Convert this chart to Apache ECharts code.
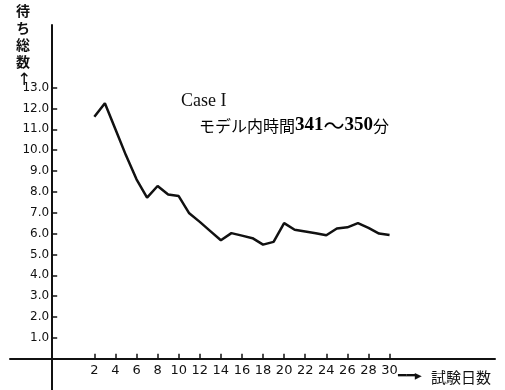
<!DOCTYPE html>
<html><head><meta charset="utf-8">
<script src="https://cdn.jsdelivr.net/npm/echarts@6/dist/echarts.min.js"></script>
<style>html,body{margin:0;padding:0;background:#fff}#c{width:505px;height:390px}</style>
</head><body><div id="c"></div>
<script>
const days = [2,3,4,5,6,7,8,9,10,11,12,13,14,15,16,17,18,19,20,21,22,23,24,25,26,27,28,29,30];
const waits = [11.6,12.25,11.0,9.75,8.6,7.72,8.28,7.87,7.8,6.97,6.56,6.12,5.68,6.02,5.9,5.78,5.47,5.6,6.5,6.18,6.1,6.02,5.92,6.24,6.3,6.5,6.27,6.0,5.93];
const xTicks = [2,4,6,8,10,12,14,16,18,20,22,24,26,28,30];
const yTicks = [1,2,3,4,5,6,7,8,9,10,11,12,13];
const yTitle = '待\nち\n総\n数';
const xTitle = '試験日数';
const caseLabel = 'Case I';
const noteParts = ['モデル内時間','341','〜','350','分'];

const chart = echarts.init(document.getElementById('c'), null, {renderer:'canvas'});
chart.setOption({
  animation:false,
  backgroundColor:'#fff',
  grid:{left:10,right:10,top:25,bottom:0,containLabel:false,outerBoundsMode:'none'},
  xAxis:{
    type:'value', min:-6, max:40, offset:-31.3,
    axisLine:{onZero:false, lineStyle:{color:'#111',width:2}},
    axisTick:{show:true, inside:true, length:5, customValues:xTicks, lineStyle:{color:'#111',width:1.5}},
    axisLabel:{customValues:xTicks, margin:5, color:'#111', fontSize:13, fontFamily:'DejaVu Sans'},
    splitLine:{show:false}
  },
  yAxis:{
    type:'value', min:-1.5, max:16, offset:-42.2,
    axisLine:{show:true, onZero:false, lineStyle:{color:'#111',width:2}},
    axisTick:{show:true, inside:true, length:5, customValues:yTicks, lineStyle:{color:'#111',width:1.5}},
    axisLabel:{customValues:yTicks, margin:3, color:'#111', fontSize:12, fontFamily:'DejaVu Sans',
      formatter:v=>v.toFixed(1)},
    splitLine:{show:false}
  },
  series:[{
    type:'line', data:days.map((d,i)=>[d,waits[i]]),
    showSymbol:false, symbol:'none',
    lineStyle:{color:'#111',width:2.5}
  }],
  graphic:[
    {type:'text', left:16, top:2, style:{text:yTitle, font:'bold 14px "Noto Sans CJK JP"', lineHeight:17, fill:'#111'}},
    {type:'text', left:17, top:72, style:{text:'↑', font:'17px "DejaVu Sans"', fill:'#111'}},
    {type:'text', left:181, top:92, style:{text:caseLabel, font:'18px "Liberation Serif"', fill:'#111'}},
    {type:'text', left:199, top:115, style:{
      text:'{a|'+noteParts[0]+'}{b|'+noteParts[1]+'}{c|'+noteParts[2]+'}{b|'+noteParts[3]+'}{a|'+noteParts[4]+'}',
      rich:{
        a:{fontSize:16, fontFamily:'Noto Sans CJK JP', color:'#111'},
        b:{fontSize:19, fontWeight:'bold', fontFamily:'Liberation Serif', color:'#111'},
        c:{fontSize:21, fontFamily:'Noto Sans CJK JP', color:'#111'}
      }}},
    {type:'text', left:398, top:369, style:{text:'━━▸', font:'bold 14px "DejaVu Sans"', fill:'#111'}},
    {type:'text', left:431, top:370, style:{text:xTitle, font:'15px "Noto Sans CJK JP"', fill:'#111'}}
  ]
});
</script></body></html>
